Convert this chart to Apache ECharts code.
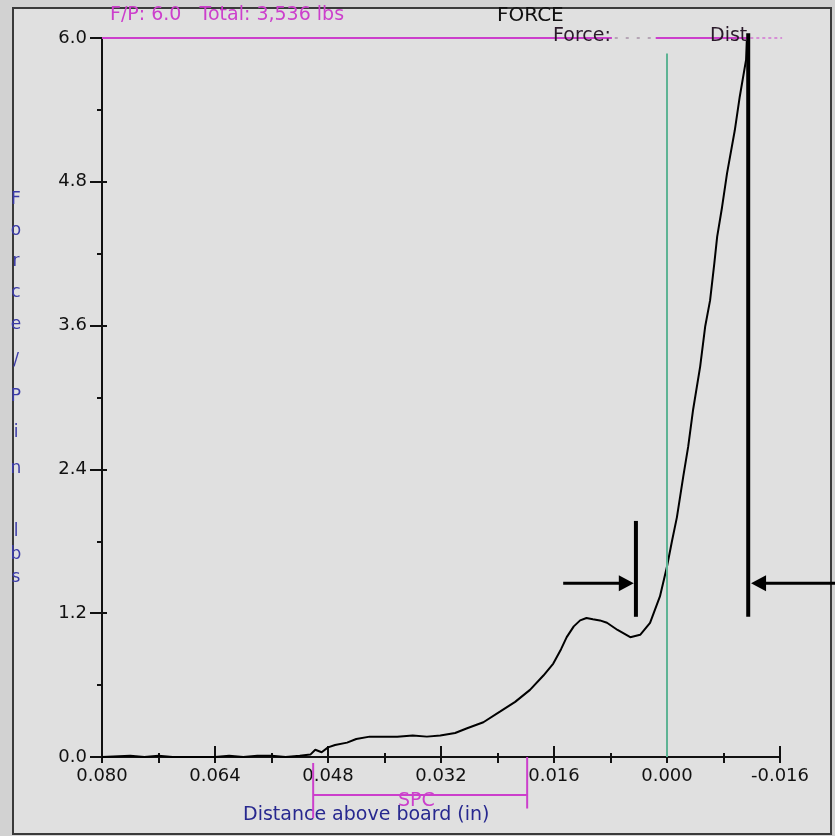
<!DOCTYPE html>
<html>
<head>
<meta charset="utf-8">
<script src="https://cdn.jsdelivr.net/npm/echarts@6/dist/echarts.min.js"></script>
<style>
  html, body { margin: 0; padding: 0; background: #d2d2d2; }
  #chart { width: 835px; height: 836px; }
</style>
</head>
<body>
<div id="chart"></div>
<script>
// distance above board (in) and force per pin (lbs)
var distIn = [0.0800, 0.0760, 0.0740, 0.0720, 0.0700, 0.0680, 0.0640, 0.0620, 0.0600, 0.0580,
  0.0560, 0.0540, 0.0520, 0.0505, 0.0498, 0.0489, 0.0480, 0.0470, 0.0453, 0.0440,
  0.0421, 0.0400, 0.0382, 0.0360, 0.0340, 0.0321, 0.0300, 0.0283, 0.0260, 0.0236,
  0.0215, 0.0194, 0.0175, 0.0161, 0.0150, 0.0142, 0.0132, 0.0123, 0.0114, 0.0105,
  0.0095, 0.0085, 0.0070, 0.0052, 0.0038, 0.0024, 0.0010, 0.0000, -0.0007, -0.0014,
  -0.0023, -0.0030, -0.0037, -0.0047, -0.0054, -0.0061, -0.0067, -0.0071, -0.0078, -0.0085,
  -0.0096, -0.0103, -0.0112, -0.0113];
var forcePerPin = [0.00, 0.01, 0.00, 0.01, 0.00, 0.00, 0.00, 0.01, 0.00, 0.01,
  0.01, 0.00, 0.01, 0.02, 0.06, 0.04, 0.08, 0.10, 0.12, 0.15,
  0.17, 0.17, 0.17, 0.18, 0.17, 0.18, 0.20, 0.24, 0.29, 0.38,
  0.46, 0.56, 0.68, 0.78, 0.90, 1.00, 1.09, 1.14, 1.16, 1.15,
  1.14, 1.12, 1.06, 1.00, 1.02, 1.12, 1.34, 1.59, 1.80, 2.00,
  2.34, 2.59, 2.90, 3.26, 3.59, 3.81, 4.12, 4.34, 4.59, 4.87,
  5.23, 5.51, 5.82, 5.98];

// axis ranges (x axis runs from 0.080 down to -0.016)
var xMin = -0.016, xMax = 0.080, xStep = 0.016;
var yMin = 0, yMax = 6.0, yStep = 1.2;

// annotation segments in data units: [x1, y1, x2, y2]
var annoSegs = [
  [0.0800, 6.0, 0.0078, 6.0],      // F/P line
  [0.0074, 6.0, 0.0018, 6.0],
  [0.0016, 6.0, -0.0113, 6.0],
  [-0.0118, 6.0, -0.0163, 6.0],
  [0.0000, 0.0, 0.0000, 5.87],     // zero distance
  [0.0501, -0.05, 0.0501, -0.51],  // SPC bracket
  [0.0198, 0.0, 0.0198, -0.43],
  [0.0501, -0.317, 0.0198, -0.317],
  [0.0044, 1.17, 0.0044, 1.97],    // markers
  [-0.0115, 1.17, -0.0115, 6.04],
  [0.0147, 1.45, 0.0047, 1.45],
  [-0.0238, 1.45, -0.0119, 1.45]
];
var annoKind = ['fp', 'fpDot', 'fp', 'fpDash', 'zero', 'spc', 'spc', 'spc', 'bar', 'bar', 'arrow', 'arrow'];

var ink = '#111';
var magenta = '#cc3fcc';
var navy = '#27288f';
var font = 'DejaVu Sans';

var annoStyles = {
  fp: { color: magenta, width: 2 },
  fpDot: { color: '#8a6a8a', width: 1, dash: [3, 8] },
  fpDash: { color: magenta, width: 1, dash: [3, 3] },
  zero: { color: '#5eb394', width: 2 },
  spc: { color: magenta, width: 2 },
  bar: { color: '#000', width: 4 },
  arrow: { color: '#000', width: 3, head: true }
};

var trace = distIn.map(function (d, i) { return [d, forcePerPin[i]]; });

function renderAnno(params, api) {
  var a = api.coord([api.value(0), api.value(1)]);
  var b = api.coord([api.value(2), api.value(3)]);
  var st = annoStyles[annoKind[params.dataIndex]];
  var kids = [];
  var end = b.slice();
  if (st.head) {
    var dir = b[0] > a[0] ? 1 : -1;
    end[0] = b[0] - dir * 10;
    kids.push({
      type: 'polygon',
      shape: { points: [[b[0], b[1]], [b[0] - dir * 15, b[1] - 8], [b[0] - dir * 15, b[1] + 8]] },
      style: { fill: st.color }
    });
  }
  kids.push({
    type: 'line',
    shape: { x1: a[0], y1: a[1], x2: end[0], y2: end[1] },
    style: { stroke: st.color, lineWidth: st.width, lineDash: st.dash || null }
  });
  return { type: 'group', children: kids };
}

var yLetters = [
  ['F', 200], ['o', 231], ['r', 262], ['c', 293], ['e', 325], ['/', 361],
  ['P', 397], ['i', 433], ['n', 469], ['l', 532], ['b', 555], ['s', 578]
];

var graphics = [
  { type: 'rect', shape: { x: 0, y: 0, width: 835, height: 836 }, style: { fill: '#d2d2d2' }, z: -20, silent: true },
  { type: 'rect', shape: { x: 13, y: 8, width: 818, height: 826 }, style: { fill: '#e0e0e0', stroke: '#3a3a3a', lineWidth: 2 }, z: -10, silent: true },
  { type: 'text', left: 110, top: 6, style: { text: 'F/P: 6.0   Total: 3,536 lbs', fill: magenta, font: '19px ' + font } },
  { type: 'text', left: 497, top: 6, style: { text: 'FORCE', fill: ink, font: '20px ' + font } },
  { type: 'text', left: 553, top: 27, style: { text: 'Force:', fill: '#2a1a2a', font: '19px ' + font }, z: 10 },
  { type: 'text', left: 710, top: 27, style: { text: 'Dist', fill: '#2a1a2a', font: '19px ' + font }, z: 10 },
  { type: 'text', left: 398, top: 792, style: { text: 'SPC', fill: magenta, font: '19px ' + font } },
  { type: 'text', left: 243, top: 806, style: { text: 'Distance above board (in)', fill: navy, font: '19px ' + font } }
];
yLetters.forEach(function (l) {
  graphics.push({
    type: 'text', x: 16, y: l[1],
    style: { text: l[0], fill: '#3b3ba8', font: '17px ' + font, align: 'center', verticalAlign: 'middle' }
  });
});

var chart = echarts.init(document.getElementById('chart'));
var option = {
  backgroundColor: 'transparent',
  animation: false,
  grid: { left: 102, right: 55, top: 38, bottom: 79 },
  xAxis: [
    {
      type: 'value', min: xMin, max: xMax, interval: xStep, inverse: true, position: 'bottom',
      axisLine: { onZero: false, lineStyle: { color: ink, width: 2 } },
      axisTick: { length: 6, lineStyle: { color: ink, width: 2 } },
      minorTick: { show: true, splitNumber: 2, length: 6, lineStyle: { color: ink, width: 2 } },
      axisLabel: { color: ink, fontFamily: font, fontSize: 18, margin: 10,
        formatter: function (v) { return v.toFixed(3); } },
      splitLine: { show: false }
    },
    {
      type: 'value', min: xMin, max: xMax, interval: xStep, inverse: true, position: 'bottom',
      axisLine: { show: false, onZero: false },
      axisTick: { inside: true, length: 11, lineStyle: { color: ink, width: 2 } },
      minorTick: { show: true, splitNumber: 2, length: 4, lineStyle: { color: ink, width: 2 } },
      axisLabel: { show: false },
      splitLine: { show: false }
    }
  ],
  yAxis: [
    {
      type: 'value', min: yMin, max: yMax, interval: yStep, position: 'left',
      axisLine: { show: true, onZero: false, lineStyle: { color: ink, width: 2 } },
      axisTick: { show: true, length: 12, lineStyle: { color: ink, width: 2 } },
      minorTick: { show: true, splitNumber: 2, length: 5, lineStyle: { color: ink, width: 2 } },
      axisLabel: { color: ink, fontFamily: font, fontSize: 18, margin: 15,
        formatter: function (v) { return v.toFixed(1); } },
      splitLine: { show: false }
    },
    {
      type: 'value', min: yMin, max: yMax, interval: yStep, position: 'left',
      axisLine: { show: false, onZero: false },
      axisTick: { show: true, inside: true, length: 5, lineStyle: { color: ink, width: 2 } },
      axisLabel: { show: false },
      splitLine: { show: false }
    }
  ],
  series: [
    {
      name: 'Force', type: 'line', data: trace, showSymbol: false, sampling: false,
      lineStyle: { color: '#000', width: 2 }, z: 5
    },
    {
      name: 'marks', type: 'custom', data: annoSegs, clip: false, silent: true, z: 6,
      encode: { x: [0, 2], y: [1, 3] },
      renderItem: renderAnno
    }
  ],
  graphic: graphics
};
chart.setOption(option);
</script>
</body>
</html>
